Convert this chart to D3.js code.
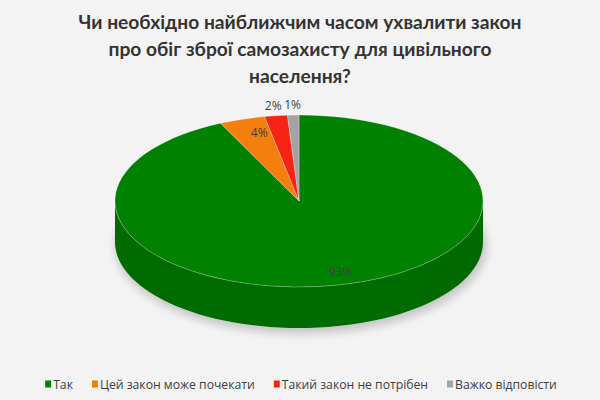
<!DOCTYPE html>
<html>
<head>
<meta charset="utf-8">
<script src="https://cdn.jsdelivr.net/npm/d3@7"></script>
<style>
  html, body { margin: 0; padding: 0; background: #f3f3f3; }
  svg { display: block; }
</style>
</head>
<body>
<div id="chart"></div>
<script>
// 3D pie: "Чи необхідно найближчим часом ухвалити закон ..."
const titleLines = [
    "Чи необхідно найближчим часом ухвалити закон",
    "про обіг зброї самозахисту для цивільного",
    "населення?"
];
const categories = ["Так", "Цей закон може почекати", "Такий закон не потрібен", "Важко відповісти"];
const values = [93, 4, 2, 1];
const colors = ["#008200", "#f57f0c", "#f52414", "#a3a3a3"];

const W = 600, H = 400;
const cx = 299, cy = 201;      // centre of the top face
const rx = 184, ry = 86;       // ellipse radii
const depth = 41;              // thickness of the disc

const svg = d3.select("#chart").append("svg")
    .attr("width", W)
    .attr("height", H);

svg.append("rect").attr("width", W).attr("height", H).attr("fill", "#f3f3f3");

const defs = svg.append("defs");
defs.append("filter").attr("id", "shadow")
    .attr("x", "-20%").attr("y", "-50%").attr("width", "140%").attr("height", "200%")
    .append("feGaussianBlur").attr("stdDeviation", 4);

// title
svg.append("text")
    .attr("x", 300)
    .attr("y", 29)
    .attr("text-anchor", "middle")
    .style("font-family", "Lato, sans-serif")
    .style("font-weight", "bold")
    .style("font-size", "19.2px")
    .attr("fill", "#333")
    .selectAll("tspan")
    .data(titleLines)
    .enter()
    .append("tspan")
    .attr("x", 300)
    .attr("dy", (d, i) => i === 0 ? 0 : 27)
    .text(d => d);

const pie = d3.pie().sort(null).value(d => d)(values);

// soft shadow under the disc
svg.append("ellipse")
    .attr("cx", cx + 2)
    .attr("cy", cy + depth + 4)
    .attr("rx", rx + 2)
    .attr("ry", ry + 2)
    .attr("fill", "#000")
    .attr("opacity", 0.18)
    .attr("filter", "url(#shadow)");

// side walls, only the front half (angles between PI/2 and 3PI/2) is visible
const pt = a => [rx * Math.sin(a), -ry * Math.cos(a)];
pie.forEach((p, i) => {
    const s = Math.max(p.startAngle, Math.PI / 2);
    const e = Math.min(p.endAngle, Math.PI * 3 / 2);
    if (e <= s) return;
    const steps = d3.range(0, 61).map(k => s + (e - s) * k / 60);
    const top = steps.map(pt);
    const bottom = steps.slice().reverse().map(a => {
        const q = pt(a);
        return [q[0], q[1] + depth];
    });
    const gid = "side" + i;
    const base = d3.color(colors[i]);
    const grad = defs.append("linearGradient").attr("id", gid)
        .attr("gradientUnits", "userSpaceOnUse")
        .attr("x1", cx - rx).attr("x2", cx + rx).attr("y1", 0).attr("y2", 0);
    grad.append("stop").attr("offset", "0%").attr("stop-color", base.darker(0.55));
    grad.append("stop").attr("offset", "55%").attr("stop-color", base.darker(0.75));
    grad.append("stop").attr("offset", "100%").attr("stop-color", base.darker(1.25));
    svg.append("path")
        .attr("transform", `translate(${cx},${cy})`)
        .attr("d", d3.line()(top.concat(bottom)) + "Z")
        .attr("fill", `url(#${gid})`);
});

// top face: circular arcs squashed into the ellipse
const arc = d3.arc().innerRadius(0).outerRadius(rx);
const topG = svg.append("g")
    .attr("transform", `translate(${cx},${cy}) scale(1,${ry / rx})`);
topG.selectAll("path")
    .data(pie)
    .enter()
    .append("path")
    .attr("d", arc)
    .attr("fill", (d, i) => colors[i])
    .attr("stroke", "#ffffff")
    .attr("stroke-opacity", 0.35)
    .attr("stroke-width", 0.8)
    .attr("vector-effect", "non-scaling-stroke");

// data labels; small slices go outside the disc
const total = d3.sum(values);
const labelPos = d => {
    const a = (d.startAngle + d.endAngle) / 2;
    const r = d.value / total < 0.03 ? 1.12 : 0.84;
    return [cx + r * rx * Math.sin(a) + (r < 1 ? 8 : 0), cy - r * ry * Math.cos(a)];
};
svg.selectAll(".lbl")
    .data(pie)
    .enter()
    .append("text")
    .attr("class", "lbl")
    .attr("x", d => labelPos(d)[0])
    .attr("y", d => labelPos(d)[1])
    .attr("text-anchor", "middle")
    .attr("dominant-baseline", "central")
    .style("font-family", "'Open Sans', sans-serif")
    .style("font-size", "12px")
    .attr("fill", "#404040")
    .text(d => Math.round(d.value / total * 100) + "%");

// legend
const legend = svg.append("g");
let lx = 0;
categories.forEach((c, i) => {
    const item = legend.append("g").attr("transform", `translate(${lx},0)`);
    item.append("rect")
        .attr("x", 0).attr("y", -3.5)
        .attr("width", 6).attr("height", 7)
        .attr("fill", colors[i]);
    const t = item.append("text")
        .attr("x", 8)
        .attr("y", 0)
        .attr("dominant-baseline", "central")
        .style("font-family", "'Open Sans', sans-serif")
        .style("font-size", "12.2px")
        .attr("fill", "#404040")
        .text(c);
    lx += 8 + t.node().getComputedTextLength() + 19;
});
const lw = lx - 19;
legend.attr("transform", `translate(${(W - lw) / 2 + 1},384)`);
</script>
</body>
</html>
